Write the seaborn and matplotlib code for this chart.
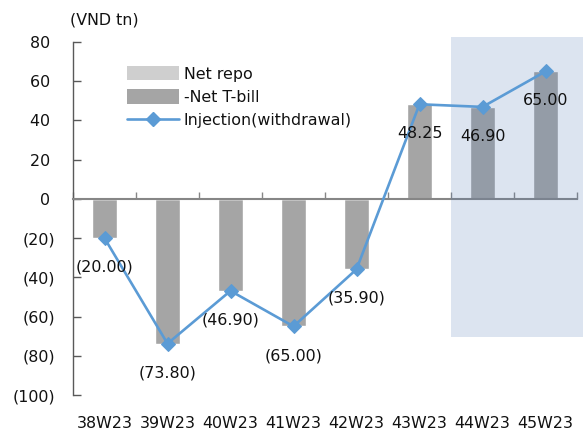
import numpy as np
import pandas as pd
import matplotlib
matplotlib.use("Agg")
import matplotlib.pyplot as plt
from matplotlib.patches import Patch, Rectangle
from matplotlib.lines import Line2D
from matplotlib.ticker import FixedLocator, FuncFormatter
import seaborn as sns

# Weekly open-market operations (VND tn)
weeks = ["38W23", "39W23", "40W23", "41W23", "42W23", "43W23", "44W23", "45W23"]
net_repo = [0, 0, 0, 0, 0, 0, 0, 0]
neg_net_tbill = [-20.00, -73.80, -46.90, -65.00, -35.90, 48.25, 46.90, 65.00]
injection = [-20.00, -73.80, -46.90, -65.00, -35.90, 48.25, 46.90, 65.00]
highlight_from = "44W23"

sns.set_theme(style="white")
plt.rcParams["font.family"] = ["DejaVu Sans"]
FS = 11.4

GRAY_BAR = "#A5A5A5"
REPO = "#CFCFCF"
BLUE = "#5B9BD5"
TXT = "#111111"

df = pd.DataFrame({"week": weeks, "repo": net_repo, "tbill": neg_net_tbill, "inj": injection})
pos = np.arange(len(weeks))

fig = plt.figure(figsize=(5.83, 4.34), dpi=100)
ax = fig.add_axes([73 / 583, 1 - 395 / 434, 504 / 583, 353 / 434])

sns.barplot(data=df, x="week", y="tbill", color=GRAY_BAR, width=0.4,
            saturation=1, ax=ax, zorder=1)
sns.barplot(data=df, x="week", y="repo", color=REPO, width=0.4,
            saturation=1, ax=ax, zorder=1)

# highlighted weeks
start = weeks.index(highlight_from) - 0.5
ax.add_patch(Rectangle((start, -70.5), len(weeks) - 0.38 - start, 153.1,
                       facecolor="#5078B4", alpha=0.2, edgecolor="none",
                       zorder=3, clip_on=False))

sns.lineplot(x=pos, y=df["inj"], color=BLUE, lw=1.9, marker="D", markersize=7,
             markeredgecolor=BLUE, ax=ax, zorder=4, clip_on=False)


def fmt_val(v):
    return f"({abs(v):.2f})" if v < 0 else f"{v:.2f}"


for x, v in zip(pos, injection):
    ax.annotate(fmt_val(v), (x, v), xytext=(0, -21), textcoords="offset points",
                ha="center", va="center", fontsize=FS, color=TXT, zorder=5)

ax.set_xlim(-0.5, len(weeks) - 0.5)
ax.set_ylim(-100, 80)
ax.set_yticks(np.arange(-100, 81, 20))
ax.yaxis.set_major_formatter(FuncFormatter(
    lambda v, _: f"({abs(int(v))})" if v < 0 else f"{int(v)} "))
ax.tick_params(axis="y", left=True, direction="in", length=6, width=1,
               color="#595959", labelsize=FS, pad=13, labelcolor=TXT)

# zero axis with category boundary ticks; labels sit on a bottom axis
for s in ["top", "right"]:
    ax.spines[s].set_visible(False)
ax.spines["left"].set_color("#595959")
ax.spines["left"].set_linewidth(1.0)
ax.spines["bottom"].set_position(("data", 0))
ax.spines["bottom"].set_color("#868686")
ax.spines["bottom"].set_linewidth(1.5)
ax.xaxis.set_major_locator(FixedLocator(np.arange(-0.5, len(weeks), 1.0)))
ax.tick_params(axis="x", bottom=True, direction="in", length=5, width=1,
               color="#868686", labelbottom=False)
ax.set_xlabel("")
ax.set_ylabel("")

sec = ax.secondary_xaxis("bottom")
sec.set_xticks(pos, weeks)
sec.tick_params(length=0, labelsize=FS, pad=15, labelcolor=TXT)
sec.spines["bottom"].set_visible(False)

fig.text(70 / 583, 1 - 20 / 434, "(VND tn)", fontsize=FS, ha="left", va="center",
         color=TXT)

handles = [
    Patch(facecolor=REPO, edgecolor="none"),
    Patch(facecolor=GRAY_BAR, edgecolor="none"),
    Line2D([], [], color=BLUE, lw=1.9, marker="D", markersize=7),
]
labels = ["Net repo", "-Net T-bill", "Injection(withdrawal)"]
leg = ax.legend(handles, labels, loc="upper left", bbox_to_anchor=(0.107, 0.932),
                frameon=False, fontsize=FS, handlelength=3.3, handleheight=1.0,
                handletextpad=0.3, labelspacing=0.5, borderpad=0, borderaxespad=0)
for t in leg.get_texts():
    t.set_color(TXT)

fig.savefig("out.png", dpi=100)
